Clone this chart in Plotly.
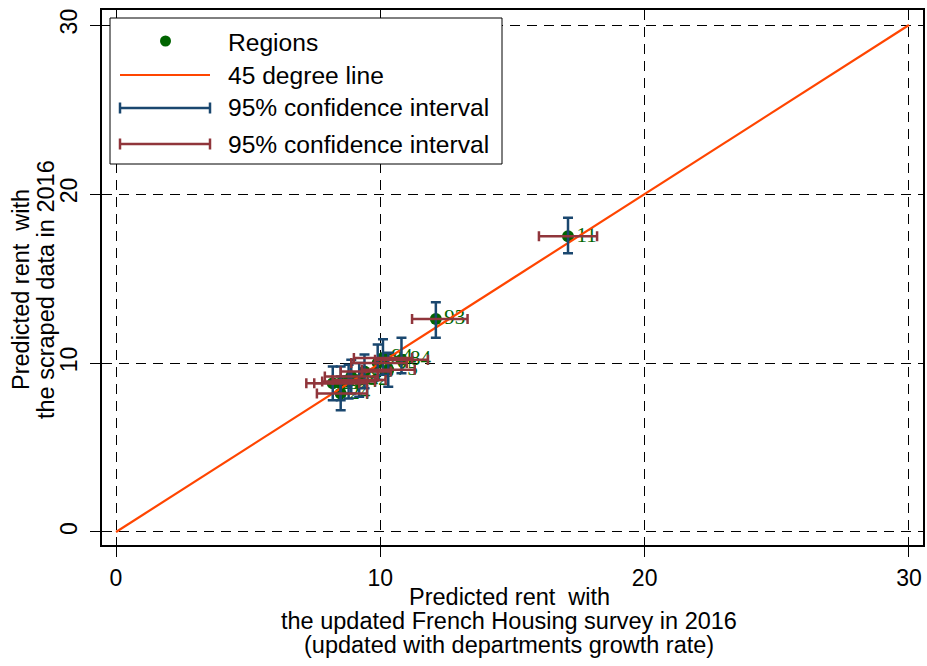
import plotly.graph_objects as go

# ---- data ----
regions = ["11", "93", "84", "94", "76", "75", "53", "52", "44", "32", "28", "27", "24"]
survey_rent = [17.1, 12.1, 10.8, 10.1, 9.9, 10.3, 9.4, 9.2, 8.8, 8.5, 8.9, 8.2, 8.5]
survey_lo = [16.0, 11.2, 9.8, 9.0, 8.9, 9.3, 8.5, 8.2, 7.8, 7.5, 7.9, 7.2, 7.6]
survey_hi = [18.2, 13.3, 11.8, 11.2, 11.0, 11.3, 10.4, 10.2, 9.8, 9.5, 9.9, 9.2, 9.5]
scraped_rent = [17.5, 12.6, 10.2, 10.3, 10.0, 9.6, 9.5, 9.0, 8.9, 8.8, 9.2, 8.8, 8.2]
scraped_lo = [16.5, 11.5, 9.4, 9.3, 9.0, 8.6, 8.5, 8.0, 7.9, 7.8, 8.2, 7.8, 7.2]
scraped_hi = [18.6, 13.6, 11.5, 11.4, 11.1, 10.6, 10.5, 10.0, 9.9, 9.8, 10.2, 9.8, 9.2]
line45 = [0, 30]
ticks = [0, 10, 20, 30]

x_title_lines = ["Predicted rent  with", "the updated French Housing survey in 2016",
                 "(updated with departments growth rate)"]
y_title_lines = ["Predicted rent  with", "the scraped data in 2016"]
legend_labels = ["Regions", "45 degree line", "95% confidence interval", "95% confidence interval"]

W, H = 927, 666
L, R, T, B = 102, 923, 10, 545  # plot frame in px

GREEN = "#006400"
ORANGE = "#ff4500"
BLUE = "#1a476f"
RED = "#90353b"
FONT = "Liberation Sans"

fig = go.Figure()

fig.add_trace(go.Scatter(
    x=survey_rent, y=scraped_rent, mode="markers+text", text=regions,
    textposition="middle right",
    textfont=dict(family="Liberation Serif", size=21, color=GREEN),
    marker=dict(color=GREEN, size=12), showlegend=False))

fig.add_trace(go.Scatter(x=line45, y=line45, mode="lines",
                         line=dict(color=ORANGE, width=2.2), showlegend=False))

fig.add_trace(go.Scatter(
    x=survey_rent, y=scraped_rent, mode="markers",
    marker=dict(size=1, opacity=0),
    error_y=dict(type="data", symmetric=False,
                 array=[h - v for h, v in zip(scraped_hi, scraped_rent)],
                 arrayminus=[v - l for l, v in zip(scraped_lo, scraped_rent)],
                 color=BLUE, thickness=2.5, width=5),
    showlegend=False, hoverinfo="skip"))

fig.add_trace(go.Scatter(
    x=survey_rent, y=scraped_rent, mode="markers",
    marker=dict(size=1, opacity=0),
    error_x=dict(type="data", symmetric=False,
                 array=[h - v for h, v in zip(survey_hi, survey_rent)],
                 arrayminus=[v - l for l, v in zip(survey_lo, survey_rent)],
                 color=RED, thickness=2.5, width=5),
    showlegend=False, hoverinfo="skip"))

# ---- custom legend & titles (paper coords from pixel positions) ----
def px(xp):
    return (xp - L) / (R - L)

def py(yp):
    return (B - yp) / (B - T)

shapes = []
annots = []
shapes.append(dict(type="rect", xref="paper", yref="paper", x0=px(110), x1=px(502),
                   y0=py(164), y1=py(18), line=dict(color="black", width=1),
                   fillcolor="white", layer="above"))
shapes.append(dict(type="circle", xref="paper", yref="paper", x0=px(160), x1=px(171),
                   y0=py(46.5), y1=py(35.5), fillcolor=GREEN, line=dict(width=0),
                   layer="above"))
shapes.append(dict(type="line", xref="paper", yref="paper", x0=px(120), x1=px(210),
                   y0=py(75), y1=py(75), line=dict(color=ORANGE, width=2.2), layer="above"))
for yy, col in [(108, BLUE), (144, RED)]:
    shapes.append(dict(type="line", xref="paper", yref="paper", x0=px(120), x1=px(210),
                       y0=py(yy), y1=py(yy), line=dict(color=col, width=2.5), layer="above"))
    for xx in (120, 210):
        shapes.append(dict(type="line", xref="paper", yref="paper", x0=px(xx), x1=px(xx),
                           y0=py(yy - 5.5), y1=py(yy + 5.5), line=dict(color=col, width=2.5),
                           layer="above"))
for yy, txt in zip([42, 75, 108, 144], legend_labels):
    annots.append(dict(xref="paper", yref="paper", x=px(226), y=py(yy), text=txt,
                       showarrow=False, xanchor="left", yanchor="middle",
                       font=dict(family=FONT, size=24.6, color="black")))

for yy, txt in zip([597, 621, 645], x_title_lines):
    annots.append(dict(xref="paper", yref="paper", x=px(509), y=py(yy), text=txt,
                       showarrow=False, xanchor="center", yanchor="middle",
                       font=dict(family=FONT, size=23.5, color="black")))
for xx, txt in zip([21, 46], y_title_lines):
    annots.append(dict(xref="paper", yref="paper", x=px(xx), y=py(290), text=txt,
                       showarrow=False, xanchor="center", yanchor="middle", textangle=-90,
                       font=dict(family=FONT, size=23.5, color="black")))

axis_common = dict(
    tickvals=ticks, showgrid=True, gridcolor="black", gridwidth=1,
    griddash="10px,7px", zeroline=False, showline=True, linecolor="black",
    linewidth=1.5, mirror=True, ticks="outside", ticklen=10, tickcolor="black",
    tickwidth=1, tickfont=dict(family=FONT, size=23, color="black"),
    automargin=False,
)

fig.update_layout(
    width=W, height=H,
    margin=dict(l=L, r=W - R, t=T, b=H - B),
    plot_bgcolor="white", paper_bgcolor="white",
    xaxis=dict(range=[-0.53, 30.53], ticklabelstandoff=2, **axis_common),
    yaxis=dict(range=[-0.77, 30.89], tickangle=-90, ticklabelstandoff=4, **axis_common),
    shapes=shapes, annotations=annots,
)

fig.write_html("out.html", config={"displayModeBar": False},
               post_script="document.body.style.margin='0';document.body.style.overflow='hidden';")
